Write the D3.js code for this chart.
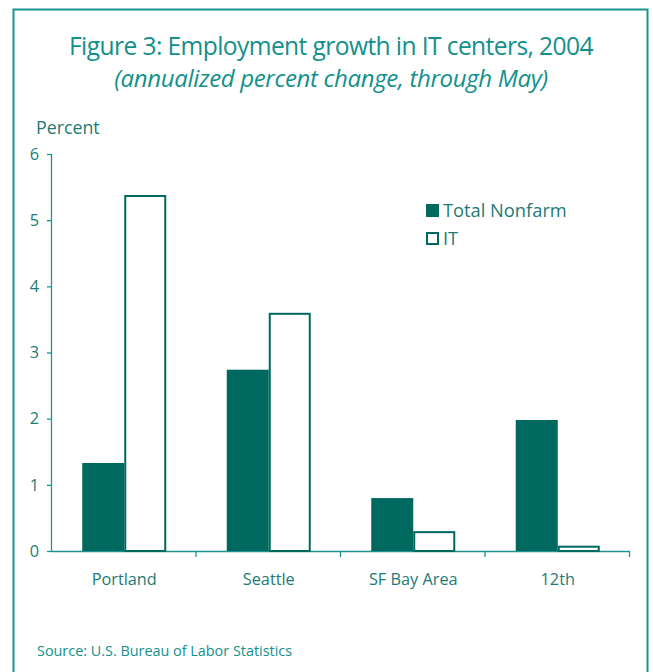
<!DOCTYPE html>
<html><head><meta charset="utf-8">
<script src="https://cdn.jsdelivr.net/npm/d3@7"></script>
<style>body{margin:0;background:#fff}svg{display:block}</style>
</head><body>
<svg id="c" width="653" height="672"></svg>
<script>
const categories = ["Portland", "Seattle", "SF Bay Area", "12th"];
const totalNonfarm = [1.33, 2.74, 0.80, 1.98];
const itValues = [5.38, 3.60, 0.30, 0.08];
const yTicks = [0, 1, 2, 3, 4, 5, 6];
const seriesNames = ["Total Nonfarm", "IT"];

const dark = "#00695f", frame = "#1b9390", text = "#1f7a74", titleCol = "#13908c";
const font = "'Open Sans', 'Noto Sans', sans-serif";
const svg = d3.select("#c");

// frame
svg.append("path").attr("d", "M13.5,672 V9.5 H647.5 V672").attr("fill", "none")
  .attr("stroke", frame).attr("stroke-width", 2);

svg.append("text").attr("x", 331).attr("y", 55).attr("text-anchor", "middle")
  .attr("font-family", font).attr("font-size", 24.6).attr("fill", titleCol)
  .attr("letter-spacing", -0.6).text("Figure 3: Employment growth in IT centers, 2004");
svg.append("text").attr("x", 331).attr("y", 87).attr("text-anchor", "middle")
  .attr("font-family", font).attr("font-size", 24).attr("font-style", "italic").attr("fill", titleCol)
  .attr("letter-spacing", -0.35).text("(annualized percent change, through May)");

svg.append("text").attr("x", 36).attr("y", 134).attr("font-family", font)
  .attr("font-size", 17.8).attr("fill", text).text("Percent");

const m = {l: 52, r: 630, t: 154, b: 551};
const y = d3.scaleLinear().domain([0, 6]).range([m.b, m.t]);
const x = d3.scaleBand().domain(categories).range([m.l, m.r]);
const xs = d3.scaleBand().domain(seriesNames).range([0, 84]);

const yAxis = svg.append("g").attr("transform", `translate(${m.l},0)`)
  .call(d3.axisLeft(y).tickValues(yTicks).tickSize(5).tickPadding(8).tickFormat(d3.format("d")));
yAxis.select(".domain").attr("d", `M-0.5,${m.t}V${m.b}`);
const xAxis = svg.append("g").attr("transform", `translate(0,${m.b})`)
  .call(d3.axisBottom(x).tickSize(0).tickPadding(22));
xAxis.select(".domain").attr("d", `M${m.l},0.5H${m.r}`);
const bounds = [m.l + x.step(), m.l + 2 * x.step(), m.l + 3 * x.step(), m.r];
xAxis.selectAll(".sep").data(bounds).join("line").attr("class", "sep")
  .attr("x1", d => d - 0.5).attr("x2", d => d - 0.5).attr("y1", 0).attr("y2", 6)
  .attr("stroke", frame).attr("stroke-width", 1.3);
[yAxis, xAxis].forEach(a => {
  a.selectAll("path.domain, .tick line").attr("stroke", frame).attr("stroke-width", 1.3);
  a.selectAll("text").attr("font-family", font).attr("font-size", 16.3).attr("fill", text);
});

const groups = svg.append("g").selectAll("g").data(categories).join("g")
  .attr("transform", d => `translate(${x(d) + x.bandwidth() / 2 - 42},0)`);
groups.append("rect").attr("x", xs("Total Nonfarm")).attr("width", xs.bandwidth())
  .attr("y", (d, i) => y(totalNonfarm[i])).attr("height", (d, i) => m.b - y(totalNonfarm[i]))
  .attr("fill", dark);
groups.append("rect").attr("x", xs("IT") + 1).attr("width", xs.bandwidth() - 2)
  .attr("y", (d, i) => y(itValues[i]) + 1).attr("height", (d, i) => m.b - y(itValues[i]) - 1)
  .attr("fill", "#fff").attr("stroke", dark).attr("stroke-width", 2);

const lg = svg.append("g");
seriesNames.forEach((s, i) => {
  const yy = 204 + i * 28;
  lg.append("rect").attr("x", i ? 427 : 426).attr("y", i ? yy + 1 : yy).attr("width", i ? 11 : 13).attr("height", i ? 11 : 13)
    .attr("fill", i ? "#fff" : dark).attr("stroke", i ? dark : "none").attr("stroke-width", 2);
  lg.append("text").attr("x", 443).attr("y", yy + 13).attr("font-family", font)
    .attr("font-size", 18.3).attr("fill", text).text(s);
});

svg.append("text").attr("x", 37).attr("y", 656).attr("font-family", font)
  .attr("font-size", 14.4).attr("fill", titleCol).text("Source: U.S. Bureau of Labor Statistics");
</script>
</body></html>
